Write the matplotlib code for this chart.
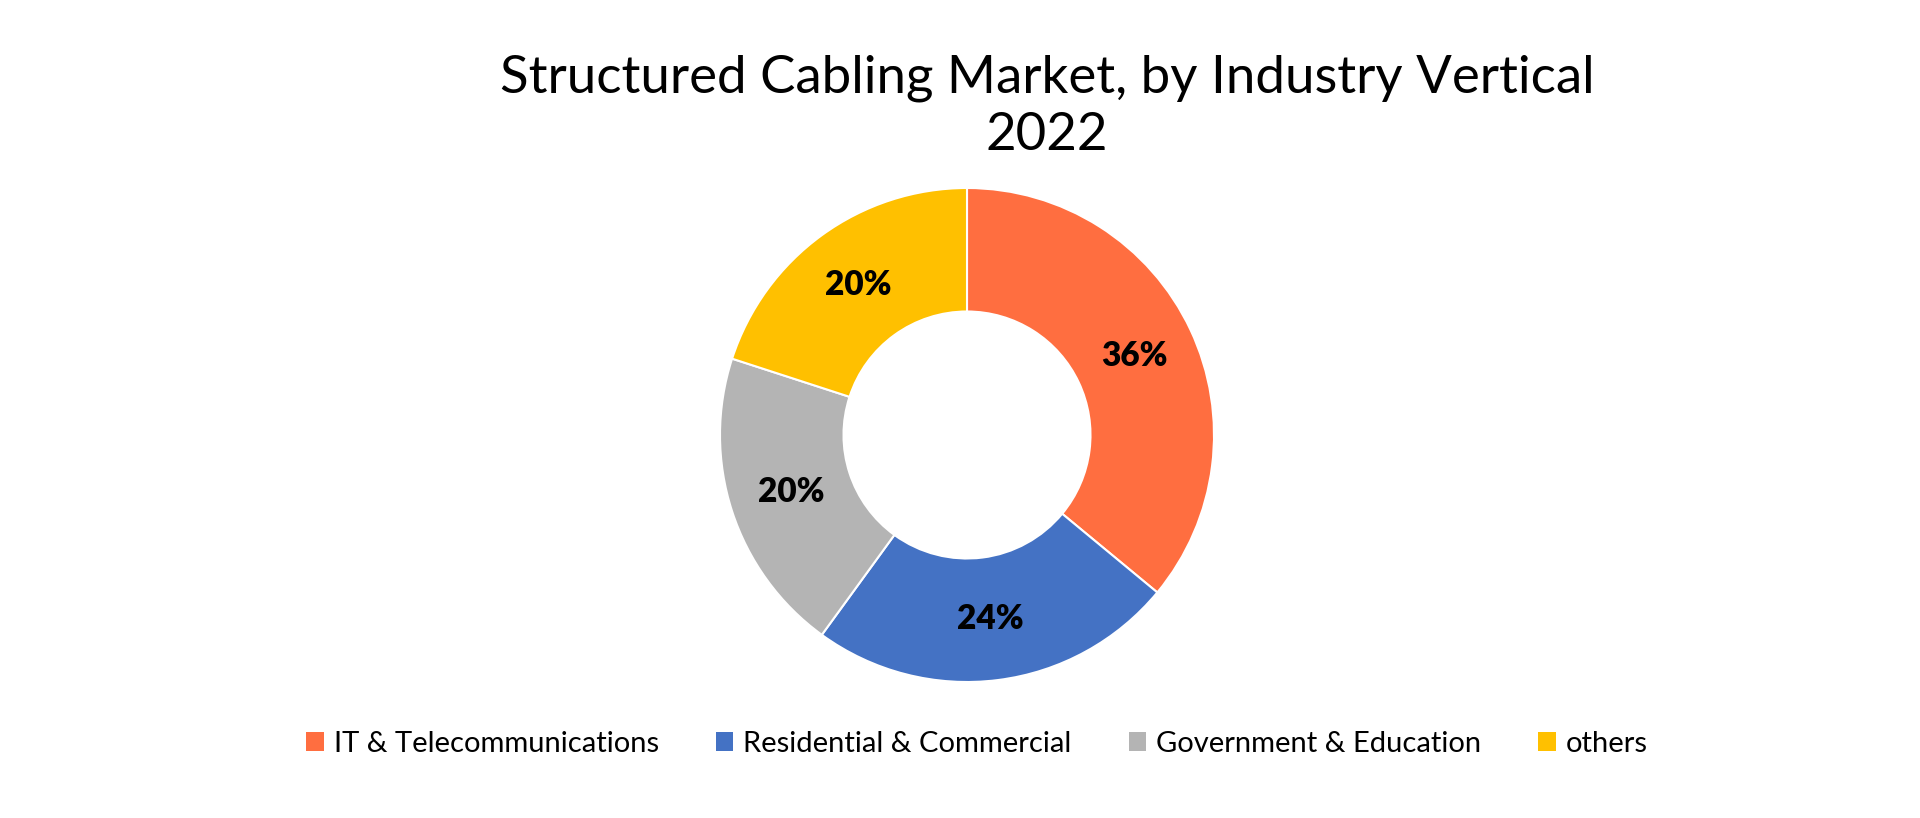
import matplotlib.pyplot as plt
from matplotlib.patches import Patch

# data
labels = ['IT & Telecommunications', 'Residential & Commercial',
          'Government & Education', 'others']
shares = [36, 24, 20, 20]
colors = ['#FF6E40', '#4472C4', '#B4B4B4', '#FFC000']

fig = plt.figure(figsize=(19.2, 8.18), dpi=100)
fig.patch.set_facecolor('white')

# donut axes placed to match the reference (center 967,435 r=247 px)
cx, cy, r = 967, 435, 247
ax = fig.add_axes([(cx - r) / 1920, (818 - cy - r) / 818, 2 * r / 1920, 2 * r / 818])
wedges, texts, autotexts = ax.pie(
    shares, colors=colors, startangle=90, counterclock=False,
    autopct='%d%%', pctdistance=0.75,
    wedgeprops=dict(width=0.5, edgecolor='white', linewidth=1.5),
    textprops=dict(fontsize=24, fontweight='heavy', family='Lato', color='black'))
ax.set_aspect('equal')
ax.set_xlim(-1, 1)
ax.set_ylim(-1, 1)

fig.text(1047 / 1920, 1 - 78 / 818, 'Structured Cabling Market, by Industry Vertical',
         ha='center', va='center', fontsize=38, family='Lato')
fig.text(1047 / 1920, 1 - 135 / 818, '2022',
         ha='center', va='center', fontsize=38, family='Lato')

handles = [Patch(facecolor=c, edgecolor='none') for c in colors]
fig.legend(handles, labels, loc='center', bbox_to_anchor=(977 / 1920, 1 - 744 / 818),
           ncol=4, frameon=False, prop=dict(family='Lato', size=21),
           handlelength=0.6, handleheight=0.6, handletextpad=0.35, columnspacing=1.95)

fig.savefig('out.png', dpi=100, facecolor='white')
